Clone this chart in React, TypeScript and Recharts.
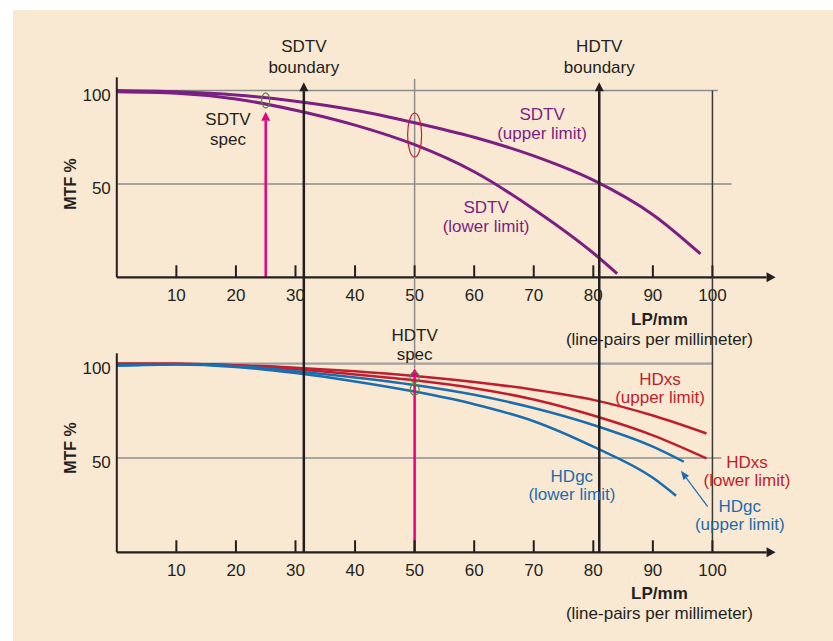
import React from 'react';
import { LineChart, Line, XAxis, YAxis, ReferenceLine, ReferenceDot } from 'recharts';

// ---------- data ----------
const xTicks = [10, 20, 30, 40, 50, 60, 70, 80, 90, 100];
const yTicks = [50, 100];

const sdtvUpperX = [0, 10, 20, 30, 40, 50, 60, 70, 80, 90, 98];
const sdtvUpperY = [100, 99.3, 97.6, 94.3, 89.5, 82.8, 75, 65, 52, 33.5, 12.5];
const sdtvLowerX = [0, 10, 20, 30, 40, 50, 60, 70, 80, 84];
const sdtvLowerY = [99.3, 98.5, 95.5, 89.5, 81.5, 71, 56.5, 36.5, 13, 2];

const hdxsUpperX = [0, 10, 20, 30, 40, 50, 60, 70, 80, 90, 99];
const hdxsUpperY = [100, 99.9, 99.2, 97.9, 96, 93.5, 90.3, 86.2, 80.8, 72.5, 63];
const hdxsLowerX = [0, 10, 20, 30, 40, 50, 60, 70, 80, 90, 99];
const hdxsLowerY = [100, 99.9, 99, 97, 94.3, 91.2, 87, 81, 72.5, 62, 49.8];
const hdgcUpperX = [0, 10, 20, 30, 40, 50, 60, 70, 80, 90, 95.2];
const hdgcUpperY = [99, 99.7, 98.8, 96, 92.7, 88.7, 83.5, 76.5, 67.5, 56, 48];
const hdgcLowerX = [0, 10, 20, 30, 40, 50, 60, 70, 80, 90, 93.9];
const hdgcLowerY = [99, 99.6, 98.3, 95, 90.6, 85.2, 78.5, 69.5, 56, 39.5, 30];

const sdtvBoundary = 31.4;
const hdtvBoundary = 81;
const sdtvSpecX = 25;
const hdtvSpecX = 50;

const pts = (xs: number[], ys: number[]) => xs.map((x, i) => ({ x, y: ys[i] }));

// ---------- styles ----------
const BG = '#FAE9D2';
const INK = '#231F20';
const GRID = '#8C8C8C';
const PURPLE = '#7B1F82';
const RED = '#BE1E2D';
const BLUE = '#1C6DAE';
const PINK = '#E6007E';
const GREEN = '#4E8A3A';
const FONT = "'Liberation Sans', Arial, sans-serif";
const FS = 17;

const W = 833;
const H = 641;

// ---------- shapes ----------
const arrowShape = (color: string, width: number, head = 9, half = 4.5) => (p: any) => {
  const { x1, y1, x2, y2 } = p;
  const dx = x2 - x1;
  const dy = y2 - y1;
  const len = Math.sqrt(dx * dx + dy * dy) || 1;
  const ux = dx / len;
  const uy = dy / len;
  const bx = x2 - ux * head;
  const by = y2 - uy * head;
  const nx = -uy * half;
  const ny = ux * half;
  return (
    <g>
      <line x1={x1} y1={y1} x2={bx} y2={by} stroke={color} strokeWidth={width} />
      <polygon points={`${x2},${y2} ${bx + nx},${by + ny} ${bx - nx},${by - ny}`} fill={color} />
    </g>
  );
};

const ellipseShape = (color: string, rx: number, ry: number) => (p: any) => (
  <ellipse cx={p.cx} cy={p.cy} rx={rx} ry={ry} fill="none" stroke={color} strokeWidth={1.2} />
);

const noteShape = (lines: string[], color: string, opts: any = {}) => (p: any) => {
  const { cx, cy } = p;
  const gap = opts.gap ?? 20;
  return (
    <text
      x={cx}
      y={cy}
      textAnchor="middle"
      fill={color}
      fontFamily={FONT}
      fontSize={opts.size ?? FS}
    >
      {lines.map((l, i) => (
        <tspan key={i} x={cx} dy={i === 0 ? 0 : gap} fontWeight={opts.firstBold && i === 0 ? 'bold' : undefined}>
          {l}
        </tspan>
      ))}
    </text>
  );
};

const rotShape = (txt: string) => (p: any) => (
  <text
    x={p.cx}
    y={p.cy}
    transform={`rotate(-90 ${p.cx} ${p.cy})`}
    textAnchor="middle"
    dominantBaseline="central"
    fill={INK}
    fontFamily={FONT}
    fontWeight="bold"
    fontSize={16}
  >
    {txt}
  </text>
);

const XTick = (p: any) => {
  const { x, y, payload } = p;
  return (
    <g>
      <line x1={x} x2={x} y1={y} y2={y - 12} stroke={INK} strokeWidth={2} />
      <text x={x} y={y + 24} textAnchor="middle" fill={INK} fontFamily={FONT} fontSize={FS}>
        {payload.value}
      </text>
    </g>
  );
};

const YTick = (p: any) => {
  const { x, y, payload } = p;
  return (
    <text x={x} y={y + 10} textAnchor="end" fill={INK} fontFamily={FONT} fontSize={FS}>
      {payload.value}
    </text>
  );
};

const curve = (data: any[], color: string, width: number, key: string) => (
  <Line
    key={key}
    data={data}
    dataKey="y"
    type="monotone"
    stroke={color}
    strokeWidth={width}
    dot={false}
    activeDot={false}
    isAnimationActive={false}
  />
);

const Seg = (a: [number, number], b: [number, number], color: string, width: number, key: string) => (
  <ReferenceLine
    key={key}
    segment={[{ x: a[0], y: a[1] }, { x: b[0], y: b[1] }]}
    stroke={color}
    strokeWidth={width}
    ifOverflow="visible"
  />
);

const Arrow = (a: [number, number], b: [number, number], color: string, width: number, key: string, head = 9, half = 4.5) => (
  <ReferenceLine
    key={key}
    segment={[{ x: a[0], y: a[1] }, { x: b[0], y: b[1] }]}
    ifOverflow="visible"
    shape={arrowShape(color, width, head, half)}
  />
);

const Note = (x: number, y: number, shape: any, key: string) => (
  <ReferenceDot key={key} x={x} y={y} r={0} ifOverflow="visible" shape={shape} />
);

const axes = (ymax: number) => [
  <XAxis
    key="xa"
    dataKey="x"
    type="number"
    domain={[0, 110]}
    ticks={xTicks}
    interval={0}
    tickSize={0}
    tickMargin={0}
    tickLine={false}
    axisLine={false}
    height={30}
    tick={<XTick />}
    allowDataOverflow
  />,
  <YAxis
    key="ya"
    type="number"
    domain={[0, ymax]}
    ticks={yTicks}
    interval={0}
    width={40}
    tickSize={4}
    tickMargin={2}
    tickLine={false}
    axisLine={{ stroke: INK, strokeWidth: 2 }}
    tick={<YTick />}
    allowDataOverflow
  />,
];

export default function App() {
  return (
    <div style={{ position: 'absolute', left: 0, top: 0, width: W, height: H, background: '#fff', overflow: 'hidden' }}>
      <div style={{ position: 'absolute', left: 13, top: 10, width: W - 13, height: H - 10, background: BG }} />

      {/* Upper panel: SDTV */}
      <div style={{ position: 'absolute', left: 0, top: 0 }}>
        <LineChart width={W} height={H} margin={{ top: 77.3, right: 61, bottom: 333.7, left: 76.8 }}>
          {axes(107.1)}
          {Seg([0, 100], [100.9, 100], GRID, 1.5, 'g100')}
          {Seg([0, 50], [103.2, 50], GRID, 1.5, 'g50')}
          {Seg([50, 0], [50, 106.2], GRID, 1.5, 'v50')}
          {Seg([100, 0], [100, 100], '#3A3A3A', 1.5, 'v100')}
          {curve(pts(sdtvUpperX, sdtvUpperY), PURPLE, 3, 'su')}
          {curve(pts(sdtvLowerX, sdtvLowerY), PURPLE, 3, 'sl')}
          {Arrow([sdtvBoundary, 0], [sdtvBoundary, 104.5], INK, 2.5, 'sb')}
          {Arrow([hdtvBoundary, 0], [hdtvBoundary, 104.5], INK, 2.5, 'hb')}
          {Arrow([sdtvSpecX, 0], [sdtvSpecX, 88.7], PINK, 2.5, 'ps')}
          {Arrow([0, 0], [110.6, 0], INK, 2.2, 'xa', 9, 5)}
          {Note(sdtvSpecX, 94.7, ellipseShape(GREEN, 4, 7.5), 'e1')}
          {Note(50, 76.2, ellipseShape(RED, 7, 22), 'e2')}
          {Note(sdtvBoundary, 120.7, noteShape(['SDTV', 'boundary'], INK, { gap: 21 }), 'n1')}
          {Note(hdtvBoundary, 120.7, noteShape(['HDTV', 'boundary'], INK, { gap: 21 }), 'n2')}
          {Note(18.67, 81.3, noteShape(['SDTV', 'spec'], INK), 'n3')}
          {Note(71.4, 84.3, noteShape(['SDTV', '(upper limit)'], PURPLE, { gap: 19 }), 'n4')}
          {Note(62.0, 34.4, noteShape(['SDTV', '(lower limit)'], PURPLE, { gap: 19 }), 'n5')}
          {Note(91.1, -25.6, noteShape(['LP/mm', '(line-pairs per millimeter)'], INK, { gap: 20, firstBold: true }), 'n6')}
          {Note(-7.74, 50, rotShape('MTF %'), 'n7')}
        </LineChart>
      </div>

      {/* Lower panel: HDTV */}
      <div style={{ position: 'absolute', left: 0, top: 0 }}>
        <LineChart width={W} height={H} margin={{ top: 353.3, right: 61, bottom: 58.7, left: 76.8 }}>
          {axes(105.5)}
          {Seg([0, 100], [100, 100], '#A0A0A0', 2.2, 'g100')}
          {Seg([0, 50], [101.5, 50], GRID, 1.5, 'g50')}
          {Seg([50, 97.7], [50, 146], GRID, 1.5, 'v50')}
          {Seg([100, 0], [100, 146], '#3A3A3A', 1.5, 'v100')}
          {curve(pts(hdxsUpperX, hdxsUpperY), RED, 2.5, 'xu')}
          {curve(pts(hdxsLowerX, hdxsLowerY), RED, 2.5, 'xl')}
          {curve(pts(hdgcUpperX, hdgcUpperY), BLUE, 2.5, 'gu')}
          {curve(pts(hdgcLowerX, hdgcLowerY), BLUE, 2.5, 'gl')}
          {Seg([sdtvBoundary, 0], [sdtvBoundary, 146], INK, 2.5, 'sb')}
          {Seg([hdtvBoundary, 0], [hdtvBoundary, 146], INK, 2.5, 'hb')}
          {Arrow([hdtvSpecX, 0], [hdtvSpecX, 97.7], PINK, 2.5, 'ps')}
          {Arrow([99.2, 24.2], [94.7, 43.3], BLUE, 1.2, 'ba', 9, 3.5)}
          {Arrow([0, 0], [110.6, 0], INK, 2.2, 'xa', 9, 5)}
          {Note(hdtvSpecX, 92.8, ellipseShape(GREEN, 4.5, 5.5), 'e1')}
          {Note(hdtvSpecX, 86.2, ellipseShape(GREEN, 4.5, 5.5), 'e2')}
          {Note(50, 112, noteShape(['HDTV', 'spec'], INK, { gap: 19 }), 'n1')}
          {Note(91.2, 88.7, noteShape(['HDxs', '(upper limit)'], RED, { gap: 18 }), 'n2')}
          {Note(105.8, 44.7, noteShape(['HDxs', '(lower limit)'], RED, { gap: 18 }), 'n3')}
          {Note(104.6, 21.4, noteShape(['HDgc', '(upper limit)'], BLUE, { gap: 18 }), 'n4')}
          {Note(76.4, 37.3, noteShape(['HDgc', '(lower limit)'], BLUE, { gap: 18 }), 'n5')}
          {Note(91.1, -24.5, noteShape(['LP/mm', '(line-pairs per millimeter)'], INK, { gap: 20, firstBold: true }), 'n6')}
          {Note(-7.74, 55.3, rotShape('MTF %'), 'n7')}
        </LineChart>
      </div>
    </div>
  );
}
